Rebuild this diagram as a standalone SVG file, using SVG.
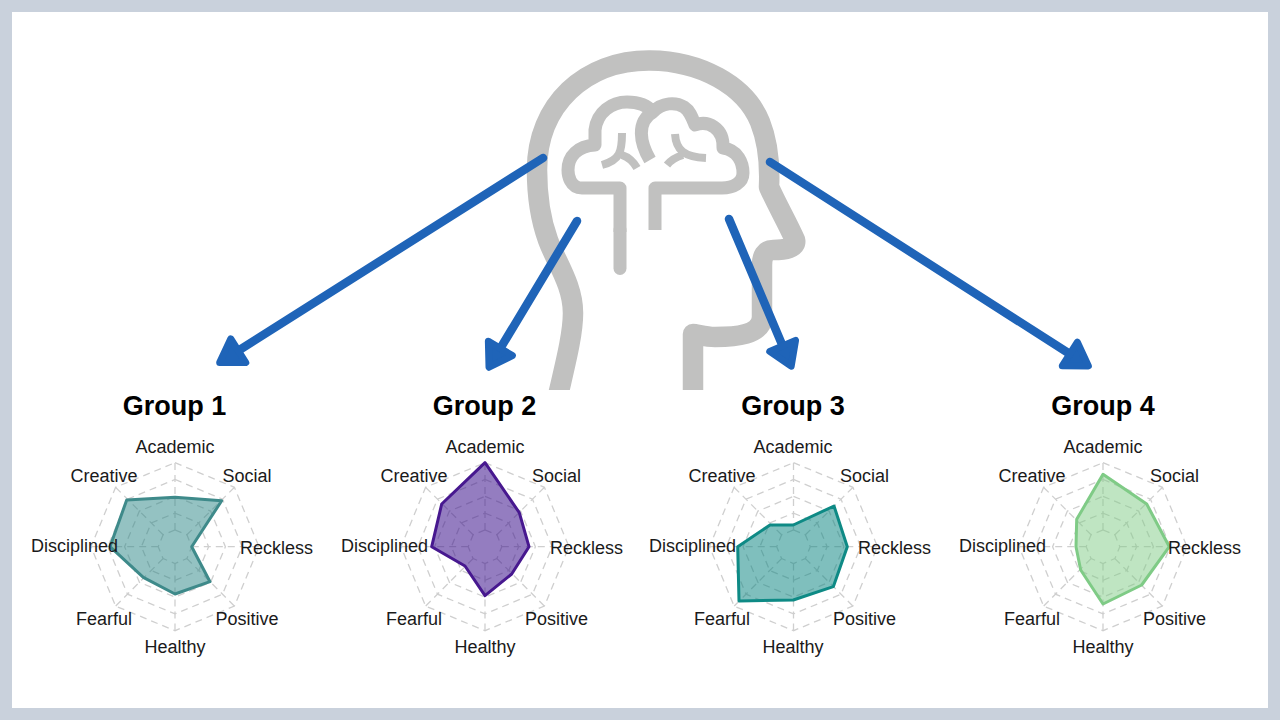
<svg xmlns="http://www.w3.org/2000/svg" xmlns:xlink="http://www.w3.org/1999/xlink" width="1280" height="720" viewBox="0 0 1280 720">
<style>
.ring{fill:none;stroke:#cfcfcf;stroke-width:1.3;stroke-dasharray:7 5}
.lab{font-family:"Liberation Sans",Arial,sans-serif;font-size:18px;fill:#1a1a1a;text-anchor:middle}
.title{font-family:"Liberation Sans",Arial,sans-serif;font-size:27px;font-weight:bold;fill:#000;text-anchor:middle}
.head{fill:none;stroke:#c1c1c0;stroke-width:20.500;stroke-linejoin:round}
.brain{fill:none;stroke:#c1c1c0;stroke-width:13;stroke-linejoin:round;stroke-linecap:butt}
.stem{fill:none;stroke:#c1c1c0;stroke-width:13;stroke-linecap:round}
.fold{fill:none;stroke:#c1c1c0;stroke-width:8;stroke-linejoin:round;stroke-linecap:butt}
.arrow{fill:none;stroke:#1f64b8;stroke-width:8.500;stroke-linecap:round;marker-end:url(#ah)}
.d1{fill:#2a8585;fill-opacity:.5;stroke:#3e8a8a;stroke-width:3;stroke-linejoin:round}
.d2{fill:#3d138c;fill-opacity:.55;stroke:#47188f;stroke-width:3;stroke-linejoin:round}
.d3{fill:#0a8581;fill-opacity:.52;stroke:#0e8a85;stroke-width:3;stroke-linejoin:round}
.d4{fill:#7fcb86;fill-opacity:.5;stroke:#7fcb86;stroke-width:3;stroke-linejoin:round}
</style>
<defs>
<clipPath id="headclip"><rect x="500" y="30" width="340" height="360"/></clipPath>
<marker id="ah" markerUnits="userSpaceOnUse" markerWidth="50" markerHeight="50" viewBox="-10 -25 50 50" refX="4" refY="0" orient="auto">
<path d="M0,-14 L22,0 L0,14 Z" fill="#1f64b8" stroke="#1f64b8" stroke-width="7" stroke-linejoin="round"/>
</marker>
<g id="grid">
<polygon class="ring" points="0,-16.8 11.9,-11.9 16.8,0 11.9,11.9 0,16.8 -11.9,11.9 -16.8,0 -11.9,-11.9"/>
<polygon class="ring" points="0,-33.6 23.8,-23.8 33.6,0 23.8,23.8 0,33.6 -23.8,23.8 -33.6,0 -23.8,-23.8"/>
<polygon class="ring" points="0,-50.4 35.6,-35.6 50.4,0 35.6,35.6 0,50.4 -35.6,35.6 -50.4,0 -35.6,-35.6"/>
<polygon class="ring" points="0,-67.2 47.5,-47.5 67.2,0 47.5,47.5 0,67.2 -47.5,47.5 -67.2,0 -47.5,-47.5"/>
<polygon class="ring" points="0,-84 59.4,-59.4 84,0 59.4,59.4 0,84 -59.4,59.4 -84,0 -59.4,-59.4"/>
<path class="ring" d="M0,-16.8V-84M11.9,-11.9L59.4,-59.4M16.8,0H84M11.9,11.9L59.4,59.4M0,16.8V84M-11.9,11.9L-59.4,59.4M-16.8,0H-84M-11.9,-11.9L-59.4,-59.4"/>
</g>
</defs>
<rect x="0" y="0" width="1280" height="720" fill="#c9d1dc"/>
<rect x="12" y="12" width="1256" height="696" fill="#ffffff"/>

<g id="brain-head">
<g clip-path="url(#headclip)">
<path class="head" d="M557,400 C565,365 573,335 573,313 C573,285 556,262 548,240 C540,218 537,195 537,170 C537,105 585,60 650,60.500 C700,61 745,85 760,122 C768,142 770,165 769,187 C777,205 787,222 795,240 C797,248 785,250 773,250 C765,250 762,256 762,265 L762,317 C762,335 735,337 715,337 C705,337 697,334 693,334 L693,400"/>
</g>
<path class="stem" d="M620,268.500 V230"/>
<path class="brain" d="M620,232 V188 H582 C570,188 568,175 568,170 C568,156 578,146 595,145 V130 C597,112 612,102 627,102 C640,102 648,106 653,112 C662,102 676,102 684,107 C690,111 692,117 695,125 C708,120 724,128 723,148 C738,150 743,163 743,173 C743,183 733,188 722,188 H655 V230"/>
<path class="brain" d="M650,160 C640,143 636,122 653,112"/>
<path class="fold" d="M622,133 C622,152 620,160 602,165 M622,155 C628,157 633,161 637,168 M675,134 C676,150 684,157 706,158 M683,155 C676,157 671,160 667,165"/>
</g>

<g id="connectors">
<path class="arrow" d="M543,158 L234.900,352.800"/>
<path class="arrow" d="M577,221 L498.300,351.800"/>
<path class="arrow" d="M729,219 L784.200,349.600"/>
<path class="arrow" d="M770,162 L1073.200,356.200"/>
</g>

<g id="group-1">
<text class="title" x="174.500" y="415">Group 1</text>
<use xlink:href="#grid" href="#grid" transform="translate(175 546.700)"/>
<polygon class="d1" points="175,497.300 221.700,500.700 191.700,546.700 210,581.700 175,594 143.300,577.300 110,546.700 126.700,500"/>
<g transform="translate(175 0)">
<text class="lab" x="0" y="452.700">Academic</text><text class="lab" x="72" y="481.700">Social</text><text class="lab" x="101.500" y="554">Reckless</text><text class="lab" x="72" y="625">Positive</text><text class="lab" x="0" y="652.700">Healthy</text><text class="lab" x="-71" y="625">Fearful</text><text class="lab" x="-100.500" y="551.700">Disciplined</text><text class="lab" x="-71" y="481.700">Creative</text>
</g>
</g>

<g id="group-2">
<text class="title" x="484.500" y="415">Group 2</text>
<use xlink:href="#grid" href="#grid" transform="translate(485 546.700)"/>
<polygon class="d2" points="485,462.700 519.300,512.700 529,546.700 511.700,574 485,595.700 465,566 431.700,546.700 441.700,504"/>
<g transform="translate(485 0)">
<text class="lab" x="0" y="452.700">Academic</text><text class="lab" x="71.500" y="481.700">Social</text><text class="lab" x="101.500" y="554">Reckless</text><text class="lab" x="71.500" y="625">Positive</text><text class="lab" x="0" y="652.700">Healthy</text><text class="lab" x="-71" y="625">Fearful</text><text class="lab" x="-100.500" y="551.700">Disciplined</text><text class="lab" x="-71" y="481.700">Creative</text>
</g>
</g>

<g id="group-3">
<text class="title" x="793" y="415">Group 3</text>
<use xlink:href="#grid" href="#grid" transform="translate(793.500 546.700)"/>
<polygon class="d3" points="793.300,525 834,506 847.300,546.700 833.300,586.700 793.300,600 739,601 737.700,546.700 770,525"/>
<g transform="translate(793 0)">
<text class="lab" x="0" y="452.700">Academic</text><text class="lab" x="71.500" y="481.700">Social</text><text class="lab" x="101.500" y="554">Reckless</text><text class="lab" x="71.500" y="625">Positive</text><text class="lab" x="0" y="652.700">Healthy</text><text class="lab" x="-71" y="625">Fearful</text><text class="lab" x="-100.500" y="551.700">Disciplined</text><text class="lab" x="-71" y="481.700">Creative</text>
</g>
</g>

<g id="group-4">
<text class="title" x="1103" y="415">Group 4</text>
<use xlink:href="#grid" href="#grid" transform="translate(1103 546.700)"/>
<polygon class="d4" points="1103,474.300 1146.700,504 1169.300,546.700 1141.700,585 1103,604 1080.700,570 1076,546.700 1076.700,519.300"/>
<g transform="translate(1103 0)">
<text class="lab" x="0" y="452.700">Academic</text><text class="lab" x="71.500" y="481.700">Social</text><text class="lab" x="101.500" y="554">Reckless</text><text class="lab" x="71.500" y="625">Positive</text><text class="lab" x="0" y="652.700">Healthy</text><text class="lab" x="-71" y="625">Fearful</text><text class="lab" x="-100.500" y="551.700">Disciplined</text><text class="lab" x="-71" y="481.700">Creative</text>
</g>
</g>
</svg>
